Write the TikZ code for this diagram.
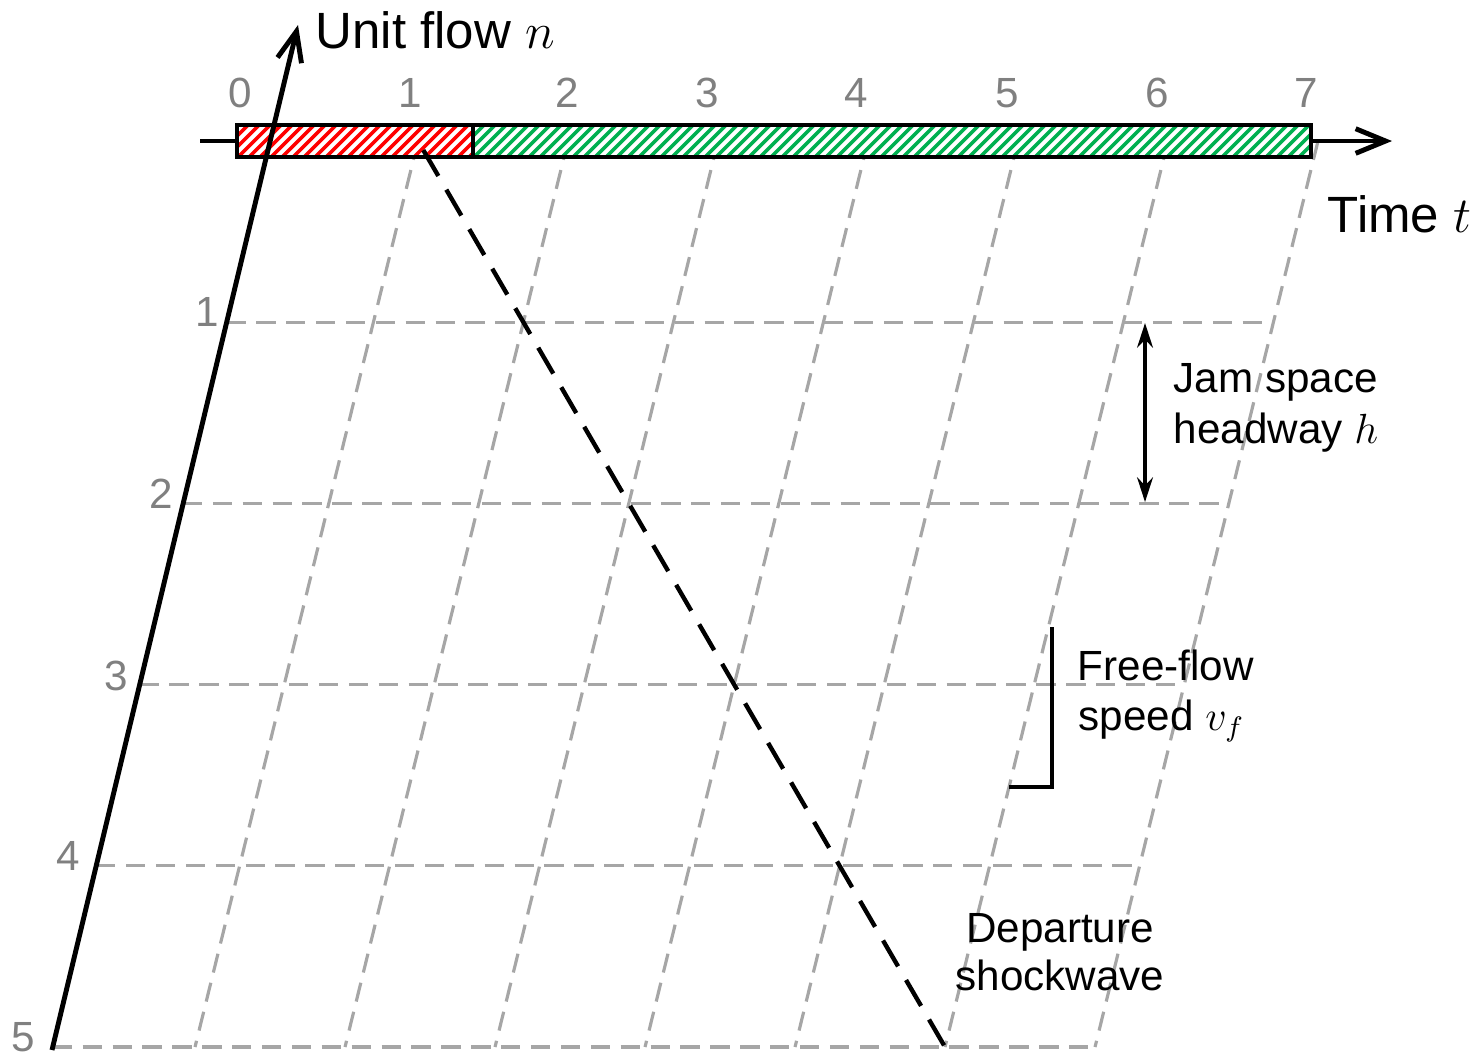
\documentclass[tikz,border=0pt]{standalone}
\usepackage{fontspec}
\setmainfont{Liberation Sans}
\usetikzlibrary{arrows.meta,calc}
\definecolor{hred}{RGB}{255,0,0}
\definecolor{hgreen}{RGB}{0,176,80}
\definecolor{gridgray}{RGB}{166,166,166}
\definecolor{labgray}{RGB}{128,128,128}
\begin{document}
\begin{tikzpicture}[x=0.01cm,y=-0.01cm,
  gridline/.style={draw=gridgray, line width=0.9pt, dash pattern=on 5.5pt off 3pt},
  axisline/.style={line width=1.4pt, -{Straight Barb[length=8.5pt,width=7pt]}},
  ticklab/.style={text=labgray, font=\fontsize{12}{14}\selectfont, inner sep=0pt},
  note/.style={font=\fontsize{12}{14}\selectfont, inner sep=0pt},
  big/.style={font=\fontsize{14.5}{17}\selectfont, inner sep=0pt},
  barline/.style={line width=1.4pt},
  stripe/.style={line width=1pt}]

\useasboundingbox (0,0) rectangle (1483,1056);

% lattice points
\foreach \k in {1,...,7}{
  \foreach \j in {0,...,5}{
    \coordinate (P\k-\j) at ({45+150*\k+(5-\j)*44.6},{141+181.2*\j});
  }
}
% points on the n axis at each row
\foreach \j in {1,...,5}{
  \coordinate (A\j) at ({52+(1050-(141+181.2*\j))*0.2395},{141+181.2*\j});
}

% grid
\foreach \k in {1,...,7} \draw[gridline] (P\k-0) -- (P\k-5);
\foreach \j in {1,...,5} \draw[gridline] (A\j) -- (P7-\j);

% time axis
\coordinate (tstart) at (200,141);
\coordinate (tend) at (1392,141);
\draw[axisline] (tstart) -- (tend);

% hatched bar
\fill[white] (237,125) rectangle (1311,157);
\begin{scope}
  \clip (237,125) rectangle (473,157);
  \foreach \x in {200,211,...,480} \draw[hred, stripe] (\x,162) -- (\x+42,120);
\end{scope}
\begin{scope}
  \clip (473,125) rectangle (1311,157);
  \foreach \x in {436,447,...,1320} \draw[hgreen, stripe] (\x,162) -- (\x+42,120);
\end{scope}
\draw[barline] (237,125) rectangle (1311,157);
\draw[barline] (473,125) -- (473,157);

% n axis
\coordinate (nstart) at (52,1050);
\coordinate (nend) at (298,25);
\draw[axisline] (nstart) -- (nend);

% departure shockwave
\draw[line width=1.25pt, dash pattern=on 8.5pt off 4.5pt, shorten <=3pt] (P1-0) -- (P6-5);

% jam space headway arrow
\coordinate (h1) at (1145,323);
\coordinate (h2) at (1145,502);
\draw[line width=0.95pt, {Stealth[length=7pt,width=4.5pt]}-{Stealth[length=7pt,width=4.5pt]}] (h1) -- (h2);

% free-flow speed bracket
\coordinate (f1) at (1052,627);
\coordinate (f2) at (1052,787);
\coordinate (f3) at (1009,787);
\draw[line width=1.1pt] (f1) -- (f2) -- (f3);

% axis titles
\node[big, anchor=base west] (nlab) at (315,48) {Unit flow $n$};
\node[big, anchor=base west] (tlab) at (1327,232) {Time $t$};

% tick labels
\foreach \x/\l in {240/0,410/1,567/2,707/3,856/4,1007/5,1157/6,1306/7}
  \node[ticklab, anchor=base] (tt\l) at (\x,107) {\l};
\node[ticklab, anchor=base] (nt1) at (207,326) {1};
\node[ticklab, anchor=base] (nt2) at (161,508) {2};
\node[ticklab, anchor=base] (nt3) at (116,690) {3};
\node[ticklab, anchor=base] (nt4) at (68,870) {4};
\node[ticklab, anchor=base] (nt5) at (23,1051) {5};

% annotations
\node[note, anchor=base west] (jam1) at (1173,392) {Jam space};
\node[note, anchor=base west] (jam2) at (1173,443) {headway $h$};
\node[note, anchor=base west] (ff1) at (1077,680) {Free-flow};
\node[note, anchor=base west] (ff2) at (1078,730) {speed $v_f$};
\node[note, anchor=base] (dep1) at (1060,942) {Departure};
\node[note, anchor=base] (dep2) at (1060,990) {shockwave};
\end{tikzpicture}
\end{document}
